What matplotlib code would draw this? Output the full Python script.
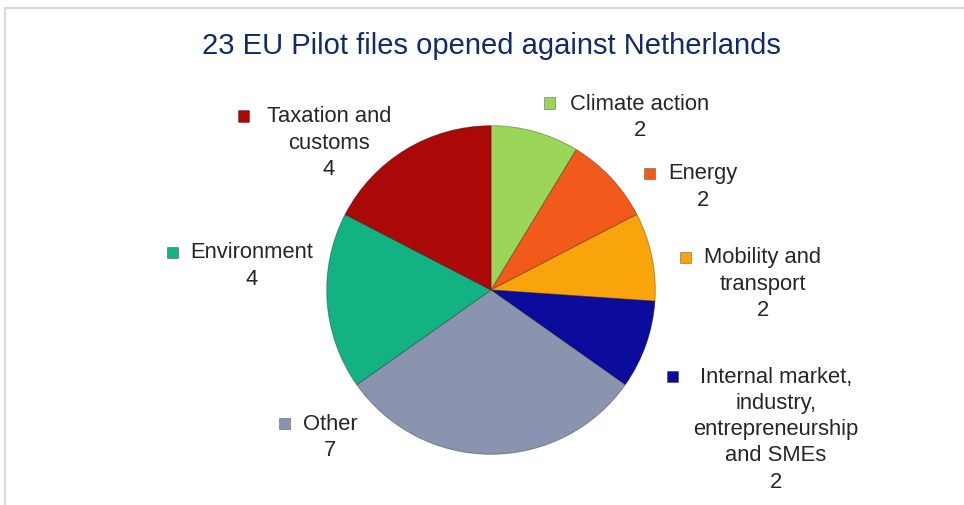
import matplotlib
matplotlib.use("Agg")
import matplotlib.pyplot as plt
from matplotlib.lines import Line2D
from matplotlib.patches import Rectangle

# ---- data ----
categories = ["Climate action", "Energy", "Mobility and\ntransport",
              "Internal market,\nindustry,\nentrepreneurship\nand SMEs",
              "Other", "Environment", "Taxation and\ncustoms"]
values = [2, 2, 2, 2, 7, 4, 4]
colors = ["#9bd65a", "#f25a1b", "#f9a40a", "#0b0b9c", "#8b94ae", "#12b283", "#ab0808"]
title = "23 EU Pilot files opened against Netherlands"

# ---- layout (pixels) ----
W, H = 964, 505
# label text centre x, first-line centre y, marker centre x
label_pos = [(640, 104, 549), (703, 174, 649), (763, 258, 685),
             (776, 377, 672), (330, 424, 284), (252, 253, 172), (329, 117, 243)]

plt.rcParams['font.family'] = ['Liberation Sans', 'DejaVu Sans']
fig = plt.figure(figsize=(W / 100, H / 100), dpi=100)
fig.patch.set_facecolor("white")

cx, cy, r = 491, 290, 166
ax = fig.add_axes([(cx - r) / W, (H - cy - r) / H, 2 * r / W, 2 * r / H])
ax.pie(values, colors=colors, startangle=90, counterclock=False, radius=1,
       wedgeprops=dict(edgecolor=(0, 0, 0, 0.3), linewidth=0.7))
ax.set_xlim(-1.01, 1.01)
ax.set_ylim(-1.01, 1.01)
ax.set_aspect("equal")
ax.axis("off")

fig.text(491 / W, 1 - 46 / H, title, ha="center", va="center",
         fontsize=21, color="#0f2b6c")

line_h = 26.3
for cat, val, col, (tx, ty, mx) in zip(categories, values, colors, label_pos):
    lines = cat.split("\n") + [str(val)]
    for i, ln in enumerate(lines):
        fig.text(tx / W, 1 - (ty + i * line_h) / H, ln, ha="center", va="center",
                 fontsize=15.8, color="#262626")
    s = 11
    fig.patches.append(Rectangle(((mx - s / 2) / W, 1 - (ty + s / 2 - 1) / H), s / W, s / H,
                                 transform=fig.transFigure, facecolor=col,
                                 edgecolor=(0, 0, 0, 0.35), linewidth=0.6))

# chart border (top and left visible)
fig.lines.append(Line2D([5 / W, 1], [1 - 8 / H, 1 - 8 / H], transform=fig.transFigure,
                        color="#d9d9d9", linewidth=1.5))
fig.lines.append(Line2D([5 / W, 5 / W], [1 - 8 / H, 0], transform=fig.transFigure,
                        color="#d9d9d9", linewidth=1.5))

fig.savefig("out.png", dpi=100, facecolor="white")
